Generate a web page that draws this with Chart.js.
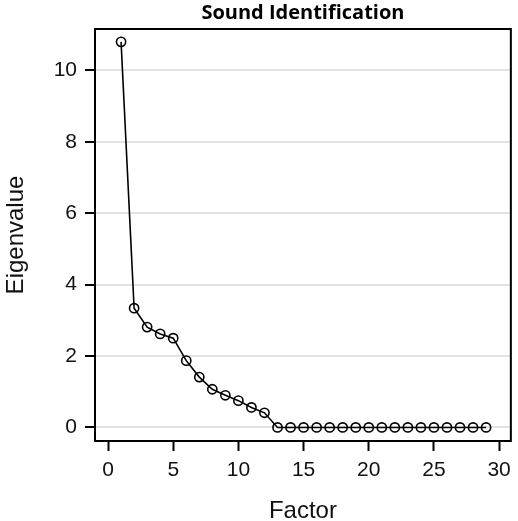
<!DOCTYPE html>
<html>
<head>
<meta charset="utf-8">
<script src="https://cdn.jsdelivr.net/npm/chart.js@4.4.1/dist/chart.umd.min.js"></script>
<style>
  html, body { margin: 0; padding: 0; background: #fff; }
  #wrap { width: 518px; height: 521px; }
</style>
</head>
<body>
<div id="wrap"><canvas id="scree"></canvas></div>
<script>
// scree plot data
const factors = [1, 2, 3, 4, 5, 6, 7, 8, 9, 10, 11, 12, 13, 14, 15, 16, 17, 18, 19, 20, 21, 22, 23, 24, 25, 26, 27, 28, 29];
const eigenvalues = [10.80, 3.34, 2.81, 2.62, 2.50, 1.87, 1.41, 1.07, 0.90, 0.75, 0.56, 0.41,
  0, 0, 0, 0, 0, 0, 0, 0, 0, 0, 0, 0, 0, 0, 0, 0, 0];
const xTicks = [0, 5, 10, 15, 20, 25, 30];
const yTicks = [0, 2, 4, 6, 8, 10];

const points = factors.map((f, i) => ({ x: f, y: eigenvalues[i] }));

// black frame round the plot area
const framePlugin = {
  id: 'frame',
  afterDatasetsDraw(chart) {
    const a = chart.chartArea;
    const ctx = chart.ctx;
    ctx.save();
    ctx.strokeStyle = '#000';
    ctx.lineWidth = 2;
    ctx.strokeRect(a.left, a.top, a.right - a.left, a.bottom - a.top);
    ctx.restore();
  }
};

new Chart(document.getElementById('scree'), {
  type: 'line',
  data: {
    datasets: [{
      data: points,
      borderColor: '#000',
      borderWidth: 1.6,
      tension: 0,
      pointStyle: 'circle',
      pointRadius: 4.6,
      pointBorderWidth: 1.6,
      pointBorderColor: '#000',
      pointBackgroundColor: 'rgba(0,0,0,0)'
    }]
  },
  options: {
    responsive: true,
    maintainAspectRatio: false,
    animation: false,
    layout: { padding: { left: 0, right: 2, top: 0, bottom: 0 } },
    plugins: {
      legend: { display: false },
      tooltip: { enabled: false },
      title: {
        display: true,
        text: 'Sound Identification',
        fullSize: false,
        color: '#000',
        font: { family: 'Open Sans', size: 20, weight: 'bold', lineHeight: 1.2 },
        padding: { top: 1, bottom: 4 }
      }
    },
    scales: {
      x: {
        type: 'linear',
        min: -1,
        max: 30.9,
        afterBuildTicks: s => { s.ticks = xTicks.map(v => ({ value: v })); },
        afterFit: s => { s.height = 80; },
        border: { display: false },
        grid: { drawOnChartArea: false, tickLength: 10, tickWidth: 2, tickColor: '#000' },
        ticks: {
          padding: 7,
          color: '#111',
          maxRotation: 0,
          font: { family: 'Liberation Sans', size: 21 }
        },
        title: {
          display: true,
          text: 'Factor',
          color: '#111',
          font: { family: 'Liberation Sans', size: 24, lineHeight: 1 },
          padding: { top: 0, bottom: -2 }
        }
      },
      y: {
        min: -0.38,
        max: 11.16,
        afterBuildTicks: s => { s.ticks = yTicks.map(v => ({ value: v })); },
        afterFit: s => { s.width = 95; },
        border: { display: false },
        grid: { color: '#e3e3e3', lineWidth: 2, tickLength: 10, tickWidth: 2, tickColor: '#000' },
        ticks: {
          padding: 8,
          color: '#111',
          font: { family: 'Liberation Sans', size: 21 }
        },
        title: {
          display: true,
          text: 'Eigenvalue',
          color: '#111',
          font: { family: 'Liberation Sans', size: 24, lineHeight: 1 },
          padding: { top: 4, bottom: 0 }
        }
      }
    }
  },
  plugins: [framePlugin]
});
</script>
</body>
</html>
